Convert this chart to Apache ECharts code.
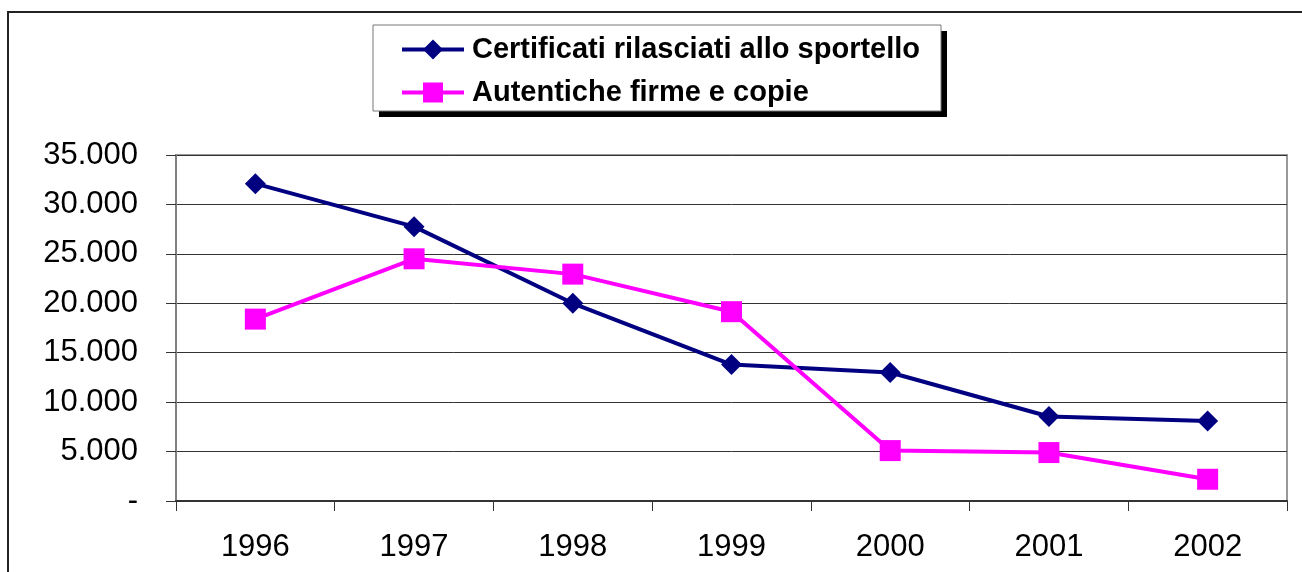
<!DOCTYPE html>
<html>
<head>
<meta charset="utf-8">
<title>Certificati e autentiche</title>
<script src="https://cdn.jsdelivr.net/npm/echarts@6/dist/echarts.min.js"></script>
<style>
  html, body { margin: 0; padding: 0; background: #fff; }
  #chart { width: 1302px; height: 572px; }
</style>
</head>
<body>
<div id="chart"></div>
<script>
// dati
var anni = ['1996', '1997', '1998', '1999', '2000', '2001', '2002'];
var certificati = [32100, 27750, 20000, 13800, 13000, 8550, 8100];
var autentiche = [18400, 24500, 22950, 19150, 5100, 4900, 2200];
var nomiSerie = ['Certificati rilasciati allo sportello', 'Autentiche firme e copie'];

var myChart = echarts.init(document.getElementById('chart'));
var font = '"Liberation Sans", Arial, sans-serif';

myChart.setOption({
  animation: false,
  graphic: [
    // cornice esterna
    { type: 'rect', z: 0, shape: { x: 8, y: 12, width: 1400, height: 700 },
      style: { fill: 'none', stroke: '#222', lineWidth: 2 } },
    // ombra della legenda
    { type: 'rect', z: 1, shape: { x: 379, y: 31, width: 568, height: 86 },
      style: { fill: '#000' } },
    { type: 'rect', z: 2, shape: { x: 373, y: 25, width: 568, height: 86 },
      style: { fill: '#fff', stroke: '#777', lineWidth: 1 } }
  ],
  legend: {
    z: 10,
    orient: 'vertical',
    left: 400,
    top: 35,
    padding: 0,
    itemWidth: 62,
    itemHeight: 25,
    itemGap: 14,
    data: nomiSerie,
    lineStyle: { width: 4 },
    textStyle: {
      fontFamily: font,
      fontSize: 29,
      fontWeight: 'bold',
      color: '#000',
      lineHeight: 25,
      padding: [0, 0, 0, 3]
    }
  },
  grid: {
    left: 176,
    right: 15,
    top: 155,
    bottom: 71,
    show: true,
    borderColor: '#999',
    borderWidth: 2
  },
  xAxis: {
    type: 'category',
    data: anni,
    boundaryGap: true,
    axisLine: { lineStyle: { color: '#333', width: 2 } },
    axisTick: { show: true, interval: 0, length: 10, lineStyle: { color: '#333', width: 1 } },
    axisLabel: {
      interval: 0,
      margin: 31,
      color: '#000',
      fontFamily: font,
      fontSize: 31
    }
  },
  yAxis: {
    type: 'value',
    min: 0,
    max: 35000,
    interval: 5000,
    axisLine: { show: true, lineStyle: { color: '#808080', width: 2 } },
    axisTick: { show: true, length: 10, lineStyle: { color: '#333', width: 1 } },
    splitLine: { lineStyle: { color: '#333', width: 1 } },
    axisLabel: {
      margin: 38,
      color: '#000',
      fontFamily: font,
      fontSize: 31,
      formatter: function (v) {
        if (v === 0) return '-';
        return String(v).replace(/\B(?=(\d{3})+(?!\d))/g, '.');
      }
    }
  },
  series: [
    {
      name: nomiSerie[0],
      type: 'line',
      data: certificati,
      symbol: 'diamond',
      symbolSize: [21, 21],
      itemStyle: { color: '#000080' },
      lineStyle: { color: '#000080', width: 4 }
    },
    {
      name: nomiSerie[1],
      type: 'line',
      data: autentiche,
      symbol: 'rect',
      symbolSize: 21,
      itemStyle: { color: '#FF00FF' },
      lineStyle: { color: '#FF00FF', width: 4 }
    }
  ]
});
</script>
</body>
</html>
